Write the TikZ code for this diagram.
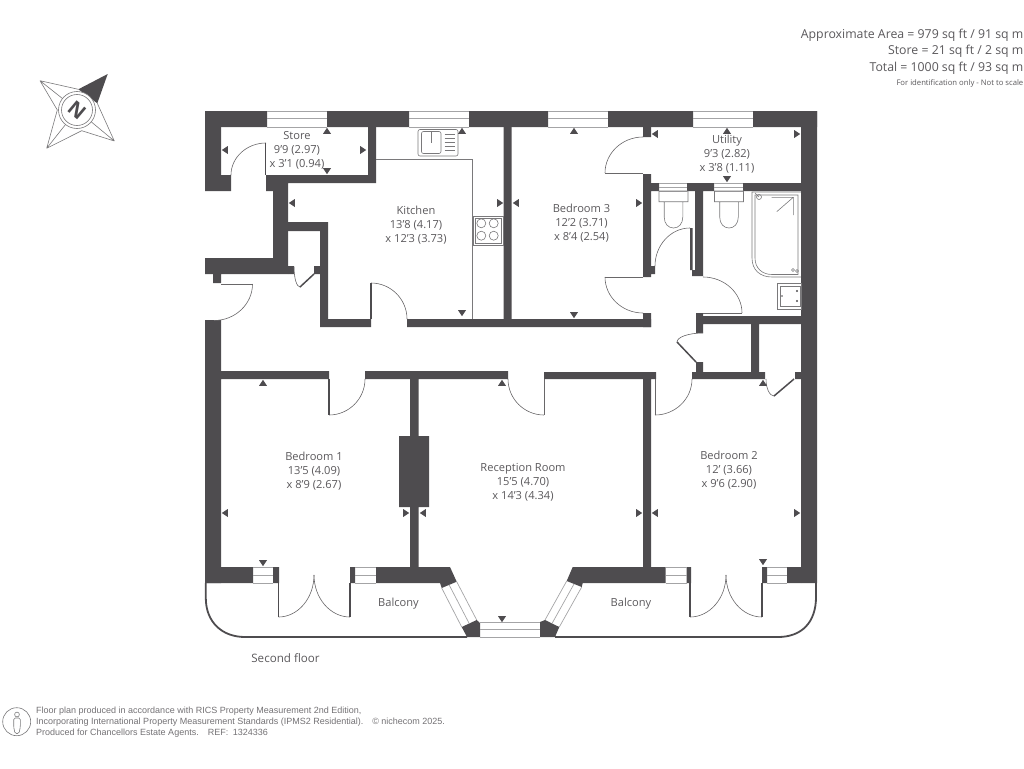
\documentclass[tikz,border=0pt]{standalone}
\usepackage{fontspec}
\setmainfont{Open Sans}
\newfontfamily\footfont{Liberation Sans}
\definecolor{wallgrey}{HTML}{4E4C4F}
\definecolor{textgrey}{HTML}{5A585B}
\definecolor{glassgrey}{HTML}{A4A4A6}
\tikzset{
	wallfill/.style={fill=wallgrey},
	glass/.style={draw=glassgrey,line width=0.7pt},
	fitting/.style={draw=wallgrey!75,line width=0.6pt},
	swing/.style={draw=wallgrey!85,line width=0.6pt},
	leaf/.style={draw=wallgrey,line width=1.5pt},
	edgeline/.style={draw=wallgrey,line width=1.8pt},
	roomlabel/.style={text=textgrey,font=\fontsize{11.1}{14}\selectfont,align=center,inner sep=0pt},
	arealabel/.style={text=textgrey,font=\fontsize{12.3}{16.5}\selectfont,align=right,inner sep=0pt,anchor=east},
}
\begin{document}
\begin{tikzpicture}[x=1pt,y=-1pt]
	\useasboundingbox (0,0) rectangle (1024,768);
	\fill[wallfill] (205,111) rectangle (267,127) (327,111) rectangle (409,127) (469,111) rectangle (548,127) (608,111) rectangle (693,127) (753,111) rectangle (817,127);
	\fill[wallfill] (205,111) rectangle (221,191) (205,175) rectangle (231,191) (266,175) rectangle (376,183) (266,175) rectangle (273,191) (273,183) rectangle (288,274) (205,258) rectangle (288,274) (213,274) rectangle (221,283) (368,127) rectangle (376,183);
	\fill[wallfill] (288,222) rectangle (328,231) (320,222) rectangle (328,327) (288,266) rectangle (294,274) (314,266) rectangle (320,274) (320,319) rectangle (371,327) (407,319) rectangle (651,327) (503.5,127) rectangle (511.5,319);
	\fill[wallfill] (643,127) rectangle (651,137) (643,174) rectangle (651,277) (651,266) rectangle (655,274) (643,313) rectangle (651,327) (643,183) rectangle (659,191) (687,183) rectangle (714,191) (743,183) rectangle (801,191) (695,191) rectangle (703,276) (692,270) rectangle (703,276) (690,228) rectangle (692.5,270);
	\fill[wallfill] (696,316) rectangle (801,324) (696,313) rectangle (703,333) (696,362) rectangle (703,372) (692,372) rectangle (765,379) (795,372) rectangle (801,379) (751,324) rectangle (759,372) (801,111) rectangle (817,583);
	\fill[wallfill] (205,320) rectangle (221,583) (221,371) rectangle (329,379) (365,371) rectangle (508,379) (544,372) rectangle (656,379) (410,379) rectangle (418.5,567) (399,436) rectangle (429,507) (643,379) rectangle (651,567);
	\fill[wallfill] (205,567) rectangle (253,583) (273,567) rectangle (279,583) (350,567) rectangle (355,583) (686.5,567) rectangle (691,583) (762,567) rectangle (767,583) (787,567) rectangle (801,583);
	\fill[wallfill] (376,567) -- (450,567) -- (456.7,581.7) -- (441.7,588) -- (440,583) -- (376,583) -- cycle;
	\fill[wallfill] (665.5,567) -- (572.7,567) -- (566.7,581) -- (581.7,587) -- (582.7,583) -- (665.5,583) -- cycle;
	\fill[wallfill] (461.7,627) -- (476.7,620) -- (480,623) -- (480,637) -- (467,637) -- cycle;
	\fill[wallfill] (540,622) -- (545,620) -- (559.3,627) -- (555,637) -- (540,637) -- cycle;
	\foreach \xa/\xb in {267/327,409/469,548/608,693/753}
		\draw[glass] (\xa,111) -- (\xb,111) (\xa,118) -- (\xb,118) (\xa,127) -- (\xb,127);
	\foreach \xa/\xb in {253/273,355/376,665.5/686.5,767/787}
		\draw[glass] (\xa,567) -- (\xb,567) (\xa,575) -- (\xb,575) (\xa,583) -- (\xb,583);
	\foreach \xa/\xb in {659/687,714/743}
		\draw[glass] (\xa,183) -- (\xb,183) (\xa,187) -- (\xb,187) (\xa,191) -- (\xb,191);
	\draw[glass] (480,622) -- (540,622) (480,629.5) -- (540,629.5) (480,637) -- (540,637);
	\draw[glass] (441.7,588) -- (461.7,627) (449.2,585) -- (469.2,623.5) (456.7,581.7) -- (476.7,620);
	\draw[glass] (545,620) -- (566.7,581) (552,623.5) -- (574,584) (559.3,627) -- (581.7,587);
	\draw[edgeline] (205.8,583) -- (205.8,598) .. controls (205.8,622) and (222,637) .. (245,637) -- (467,637);
	\draw[edgeline] (555,637) -- (778,637) .. controls (802,637) and (816,622) .. (816,597) -- (816,583);
	\foreach \ax/\ay/\bx/\by in {266/143/231/175,214/320.5/252.5/284,371/283/407/319,300/287/294/267,643/137/605/173,643/313/605/277,690/228/655/266,703/277/742/313,703/333/677/342,774/396/766/379,329/415/365/379,544/415/508/379,655/415/692/379,278.5/617/314/575,350/617/314/575,690/617/726/575,762/617/726/575}
		\draw[swing] (\ax,\ay) .. controls ({\ax+.55*(\bx-\ax)},\ay) and (\bx,{\by-.55*(\by-\ay)}) .. (\bx,\by);
	\draw[leaf] (265.7,175) -- (265.7,143) (371,319) -- (371,283) (329,379) -- (329,415) (278.5,583) -- (278.5,617) (350,583) -- (350,617) (690,583) -- (690,617) (762,583) -- (762,617);
	\draw[leaf] (300,287) -- (314,274) (677,342) -- (696,362) (774,396) -- (794,379);
	\draw[swing] (221,284) -- (252.5,284) (605,173) -- (643,173) (605,277) -- (643,277) (703,313) -- (742,313) (544,379) -- (544,415) (655,379) -- (655,415);
	\draw[fitting] (376,159) -- (472.7,159) -- (472.7,319);
	\draw[fitting,rounded corners=2pt] (418,129.5) rectangle (458,156);
	\draw[fitting,rounded corners=2pt] (421.5,131.5) rectangle (441,153.5);
	\foreach \y in {134,138,142,146,150}
		\draw[fitting] (444.5,\y) -- (455,\y);
	\draw[fitting] (431,131) -- (431,143) (426,131) -- (436,131);
	\draw[fitting] (473.5,216) rectangle (503,245) (475,218) rectangle (501.5,243);
	\foreach \x/\y in {481.3/223.3,493.7/223.3,481.3/235.7,493.7/235.7}
		\draw[fitting] (\x,\y) circle[radius=4.5];
	\foreach \x in {673.5,729}
		\draw[fitting] (\x-14.5,191) rectangle (\x+14.5,201.7) (\x-9.3,201.7) -- (\x-9.3,217) .. controls (\x-9.3,224) and (\x-5,228) .. (\x,228) .. controls (\x+5,228) and (\x+9.3,224) .. (\x+9.3,217) -- (\x+9.3,201.7);
	\draw[fitting] (801,192) -- (752,192) -- (752,258) .. controls (752,270) and (760,277) .. (772,277) -- (801,277);
	\draw[fitting] (755,195) -- (755,258) .. controls (755,268) and (762,274.5) .. (772,274.5) -- (798,274.5) -- (798,195) -- cycle;
	\draw[fitting] (771.7,197.3) -- (793.3,197.3) -- (776.7,211.7) (793.3,197.3) -- (793.3,215);
	\draw[fitting] (755,193) -- (759,197) (759,197) circle[radius=2.5];
	\draw[fitting] (793,270) circle[radius=1.5] (797,271) circle[radius=1.5];
	\draw[fitting] (777,283) rectangle (801,309) (780,286) rectangle (800,306);
	\fill[wallfill] (782,296) circle[radius=0.9] (797,291) circle[radius=1.2] (797,301) circle[radius=1.2];
	\foreach \x/\y in {327/131,462/131,574/131,727/131,263/383,502/383,763/383}
		\fill[wallfill,shift={(\x,\y)}] (-4,2.8) -- (4,2.8) -- (0,-3.2) -- cycle;
	\foreach \x/\y in {327/171,462/313,574/315,727/179,263/563,502/619,763/562}
		\fill[wallfill,shift={(\x,\y)}] (-4,-2.8) -- (4,-2.8) -- (0,3.2) -- cycle;
	\foreach \x/\y in {225/150,292/203,516/203,655/134,225/513,423/513,655/513}
		\fill[wallfill,shift={(\x,\y)}] (2.8,-4) -- (2.8,4) -- (-3.2,0) -- cycle;
	\foreach \x/\y in {363/150,500/203,639/203,797/134,406/513,639/513,797/513}
		\fill[wallfill,shift={(\x,\y)}] (-2.8,-4) -- (-2.8,4) -- (3.2,0) -- cycle;
	\node[roomlabel] (store) at (297,150) {Store\\9'9 (2.97)\\x 3'1 (0.94)};
	\node[roomlabel] (kitchen) at (416,225) {Kitchen\\13'8 (4.17)\\x 12'3 (3.73)};
	\node[roomlabel] (bedroomthree) at (581.5,223) {Bedroom 3\\12'2 (3.71)\\x 8'4 (2.54)};
	\node[roomlabel] (utility) at (727,154) {Utility\\9'3 (2.82)\\x 3'8 (1.11)};
	\node[roomlabel] (bedroomone) at (314,471) {Bedroom 1\\13'5 (4.09)\\x 8'9 (2.67)};
	\node[roomlabel] (reception) at (523,482) {Reception Room\\15'5 (4.70)\\x 14'3 (4.34)};
	\node[roomlabel] (bedroomtwo) at (729,470) {Bedroom 2\\12' (3.66)\\x 9'6 (2.90)};
	\node[roomlabel] (balconyleft) at (398.5,604) {Balcony};
	\node[roomlabel] (balconyright) at (631,604) {Balcony};
	\node[roomlabel,font=\fontsize{11.6}{14}\selectfont] (floorname) at (285.5,658.5) {Second floor};
	\node[arealabel] (areas) at (1023.5,51.5) {Approximate Area = 979 sq ft / 91 sq m\\Store = 21 sq ft / 2 sq m\\Total = 1000 sq ft / 93 sq m};
	\node[arealabel,font=\fontsize{7.7}{8}\selectfont] (scalenote) at (1023.5,83.5) {For identification only - Not to scale};
	\node[text=textgrey!85,anchor=west,align=left,inner sep=0pt,font=\footfont\fontsize{9}{11.2}\selectfont] (credits) at (36,722) {Floor plan produced in accordance with RICS Property Measurement 2nd Edition,\\Incorporating International Property Measurement Standards (IPMS2 Residential).\quad © nichecom 2025.\\Produced for Chancellors Estate Agents.\quad REF:\enspace 1324336};
	\draw[fitting] (16.7,721.7) circle[radius=14] (17,714.5) circle[radius=2.4];
	\draw[fitting,rounded corners=1.5pt] (13.7,718) -- (20.3,718) -- (20.3,727) -- (19,733.5) -- (15,733.5) -- (13.7,727) -- cycle;
	\fill[wallfill] (107.7,74) -- (78.3,89.3) -- (97.3,103.3) -- cycle;
	\draw[fitting] (40,80.7) -- (78.3,89.3) (40,80.7) -- (57.3,110) (40,80.7) -- (77,110) (114.3,141) -- (97.3,103.3) (114.3,141) -- (81.7,130.7) (114.3,141) -- (77,110) (46.7,148.3) -- (57.3,110) (46.7,148.3) -- (81.7,130.7) (46.7,148.3) -- (77,110);
	\filldraw[fill=white,fitting] (77,110) circle[radius=18.5];
	\draw[fitting] (77,110) circle[radius=15.5];
	\node[text=wallgrey,rotate=-40,inner sep=0pt,font=\bfseries\fontsize{20}{20}\selectfont] (north) at (77,110) {N};
\end{tikzpicture}
\end{document}
